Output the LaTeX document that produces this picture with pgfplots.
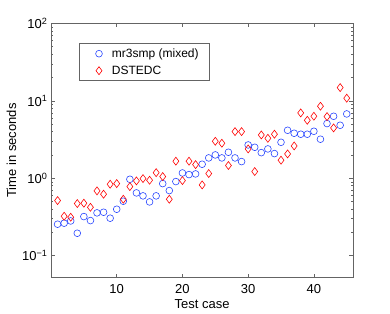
\documentclass[border=0pt]{standalone}
\usepackage{pgfplots}
\pgfplotsset{compat=1.18}
\usepackage{fontspec}
\setmainfont{Liberation Sans}
\definecolor{mblue}{RGB}{40,70,255}
\definecolor{mred}{RGB}{255,0,0}
\definecolor{frame}{RGB}{100,100,100}
\begin{document}
\begin{tikzpicture}
\useasboundingbox (-51bp,-36.3bp) rectangle (339bp,277.7bp);
\begin{axis}[
  at={(0,0)}, anchor=south west,
  scale only axis, width=302.3bp, height=254.4bp,
  ymode=log, xmin=0, xmax=46, ymin=0.052, ymax=100,
  axis line style={frame, line width=0.6pt},
  every tick/.style={frame, line width=0.5pt},
  tick align=inside, tick pos=both,
  major tick length=4bp, minor tick length=2.2bp,
  xtick={10,20,30,40}, xticklabels={10,20,30,40},
  ytick={0.1,1,10,100},
  yticklabels={10\textsuperscript{−1},10\textsuperscript{0},10\textsuperscript{1},10\textsuperscript{2}},
  ticklabel style={font=\fontsize{13bp}{15bp}\selectfont},
  xticklabel style={yshift=-3bp},
  xlabel={Test case}, ylabel={Time in seconds},
  label style={font=\fontsize{13bp}{15bp}\selectfont},
  xlabel style={yshift=1bp},
  ylabel style={yshift=-1bp},
  legend style={at={(rel axis cs:0.0936,0.9214)}, anchor=north west,
    draw=frame, line width=0.6pt, font=\fontsize{12bp}{14bp}\selectfont,
    inner xsep=8.4bp, inner ysep=3bp, row sep=3bp},
  legend image code/.code={\path[draw=none,fill=none] (0bp,-3bp) rectangle (22bp,3bp);
    \draw[mark repeat=2,mark phase=2,#1] plot coordinates {(0bp,0bp)(11bp,0bp)(22bp,0bp)};},
  legend cell align=left,
  legend columns=1,
  legend entries={mr3smp (mixed)\hspace{6.5bp},DSTEDC},
]
\addplot[only marks, mark=o, mark size=3.4pt, mblue, line width=0.6pt] coordinates {
(1,0.255)(2,0.263)(3,0.281)(4,0.195)(5,0.32)(6,0.284)(7,0.357)(8,0.364)(9,0.305)(10,0.398)
(11,0.505)(12,0.97)(13,0.647)(14,0.592)(15,0.495)(16,0.592)(17,0.853)(18,0.693)(19,0.906)(20,1.17)
(21,1.115)(22,1.137)(23,1.516)(24,1.83)(25,2.0)(26,1.83)(27,2.165)(28,1.83)(29,1.64)(30,2.69)
(31,2.51)(32,2.14)(33,2.39)(34,2.08)(35,2.91)(36,4.16)(37,3.81)(38,3.70)(39,3.70)(40,4.04)
(41,3.19)(42,5.08)(43,6.31)(44,4.83)(45,6.76)
};
\addplot[only marks, mark=diamond, mark size=4pt, mred, line width=0.6pt] coordinates {
(1,0.515)(2,0.323)(3,0.314)(4,0.471)(5,0.476)(6,0.422)(7,0.687)(8,0.622)(9,0.837)(10,0.853)
(11,0.536)(12,0.78)(13,0.924)(14,0.99)(15,0.942)(16,1.18)(17,1.05)(18,0.536)(19,1.66)(20,0.933)
(21,1.66)(22,1.50)(23,0.82)(24,1.15)(25,3.0)(26,2.83)(27,1.46)(28,4.0)(29,4.0)(30,2.39)
(31,1.22)(32,3.62)(33,3.28)(34,3.70)(35,1.71)(36,2.06)(37,2.61)(38,6.97)(39,5.6)(40,6.31)
(41,8.5)(42,6.25)(43,4.46)(44,14.8)(45,10.8)
};
\end{axis}
\end{tikzpicture}
\end{document}
